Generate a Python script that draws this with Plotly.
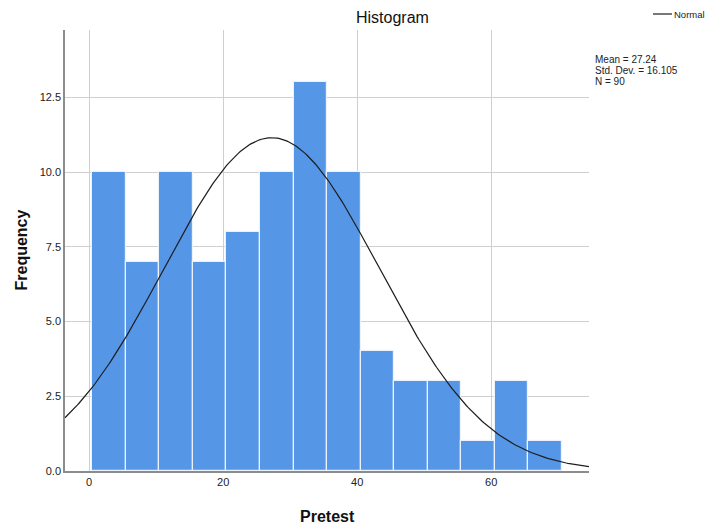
import numpy as np
import plotly.graph_objects as go

# Pretest score bins (width 5) and frequencies
bin_centers = [3, 8, 13, 18, 23, 28, 33, 38, 43, 48, 53, 58, 63, 68]
frequencies = [10, 7, 10, 7, 8, 10, 13, 10, 4, 3, 3, 1, 3, 1]
bin_width = 5

# Descriptive statistics shown beside the chart
mean_val = 27.24
std_dev = 16.105
n_cases = 90

x_ticks = [0, 20, 40, 60]
y_ticks = [0.0, 2.5, 5.0, 7.5, 10.0, 12.5]

x_range = [-3.6, 74.6]
y_range = [0, 14.75]

FONT = "Liberation Sans, Arial, sans-serif"
BAR_COLOR = "#5596e6"

# Plot area geometry in pixels (used to place text around the axes)
PLOT_L, PLOT_R, PLOT_T, PLOT_B = 65, 589, 30, 471
PW, PH = PLOT_R - PLOT_L, PLOT_B - PLOT_T


def px_x(px):
    return (px - PLOT_L) / PW


def px_y(py):
    return (PLOT_B - py) / PH


# Fitted normal curve scaled to frequency units
curve_x = np.linspace(x_range[0], x_range[1], 300)
curve_y = (n_cases * bin_width / (std_dev * np.sqrt(2 * np.pi))
           * np.exp(-0.5 * ((curve_x - mean_val) / std_dev) ** 2))

fig = go.Figure()
fig.add_trace(go.Bar(
    x=bin_centers, y=frequencies, width=bin_width,
    marker=dict(color=BAR_COLOR, line=dict(color="#eaf2fc", width=1.2)),
    showlegend=False, hoverinfo="x+y",
))
fig.add_trace(go.Scatter(
    x=curve_x, y=curve_y, mode="lines", name="Normal",
    line=dict(color="#1e1e1e", width=1.2), showlegend=False,
))

stats_lines = [f"Mean = {mean_val}", f"Std. Dev. = {std_dev}", f"N = {n_cases}"]
stats_y = [60, 71, 82]

annotations = [
    dict(text="Histogram", xref="paper", yref="paper",
         x=px_x(392), y=px_y(17), xanchor="center", yanchor="middle",
         showarrow=False, font=dict(family=FONT, size=16, color="#111111")),
    dict(text="Normal", xref="paper", yref="paper",
         x=px_x(672), y=px_y(14), xanchor="left", yanchor="middle",
         showarrow=False, font=dict(family=FONT, size=9.5, color="#222222")),
    dict(text="<b>Frequency</b>", xref="paper", yref="paper",
         x=px_x(21), y=0.5, xanchor="center", yanchor="middle",
         textangle=-90, showarrow=False,
         font=dict(family=FONT, size=16, color="#111111")),
    dict(text="<b>Pretest</b>", xref="paper", yref="paper",
         x=0.5, y=px_y(516), xanchor="center", yanchor="middle",
         showarrow=False, font=dict(family=FONT, size=16, color="#111111")),
]
for line, ypx in zip(stats_lines, stats_y):
    annotations.append(dict(
        text=line, xref="paper", yref="paper", x=px_x(593), y=px_y(ypx),
        xanchor="left", yanchor="middle", showarrow=False,
        font=dict(family=FONT, size=10, color="#222222")))

fig.update_layout(
    width=707, height=529,
    margin=dict(l=PLOT_L, r=707 - PLOT_R, t=PLOT_T, b=529 - PLOT_B),
    paper_bgcolor="white", plot_bgcolor="white",
    bargap=0,
    font=dict(family=FONT, size=11, color="#222222"),
    xaxis=dict(
        range=x_range, tickvals=x_ticks, ticktext=[str(v) for v in x_ticks],
        showgrid=True, gridcolor="#cfcfcf", gridwidth=1,
        showline=True, linecolor="#8c8c8c", linewidth=1.5,
        zeroline=False, ticks="", ticklen=0,
        tickfont=dict(size=11, color="#222222"),
    ),
    yaxis=dict(
        range=y_range, tickvals=y_ticks, ticktext=[f"{v:.1f}" for v in y_ticks],
        showgrid=True, gridcolor="#cfcfcf", gridwidth=1,
        showline=True, linecolor="#8c8c8c", linewidth=1.5,
        zeroline=False, ticks="", ticklen=0,
        tickfont=dict(size=11, color="#222222"),
    ),
    shapes=[
        dict(type="line", xref="paper", yref="paper",
             x0=px_x(653), x1=px_x(672), y0=px_y(14), y1=px_y(14),
             line=dict(color="#1e1e1e", width=1.2)),
    ],
    annotations=annotations,
)

fig.write_html("out.html")
